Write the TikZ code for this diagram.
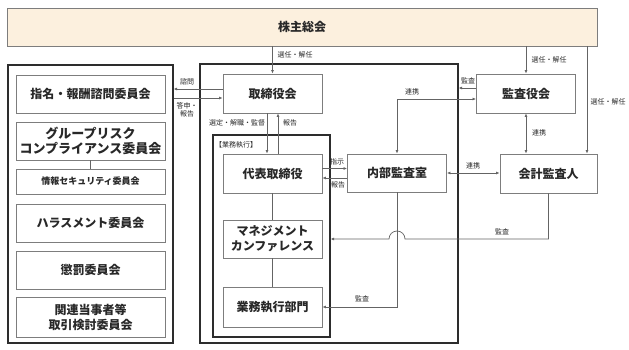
\documentclass[tikz,border=0pt]{standalone}
\usepackage{fontspec}
\setmainfont{Noto Sans CJK JP}
\usetikzlibrary{arrows.meta,positioning,calc}
\definecolor{gcedge}{RGB}{125,125,125}
\definecolor{gcframe}{RGB}{45,45,45}
\definecolor{gcline}{RGB}{100,100,100}
\definecolor{gcink}{RGB}{40,40,40}
\definecolor{gcbar}{RGB}{252,240,222}
\tikzset{
  gctip/.tip={Latex[length=3.5pt,width=3pt]},
  gcbox/.style={
    draw=gcedge, line width=0.9pt, align=center, inner sep=0pt,
    text=gcink, font=\fontsize{12}{15}\selectfont\bfseries
  },
  bar/.style={gcbox, fill=gcbar, minimum width=590, minimum height=38},
  org/.style={gcbox, minimum width=99, minimum height=39},
  cmt/.style={gcbox, minimum width=149, minimum height=38},
  frame/.style={draw=gcframe, line width=1.2pt, inner sep=0pt},
  arr/.style={-gctip, draw=gcline, line width=0.7pt},
  darr/.style={gctip-gctip, draw=gcline, line width=0.7pt},
  link/.style={draw=gcline, line width=0.7pt},
  lbl/.style={font=\fontsize{7}{8.5}\selectfont, text=gcink, inner sep=0pt, align=center}
}
\begin{document}
\begin{tikzpicture}[x=1pt,y=-1pt]
  \useasboundingbox (0,0) rectangle (629,350);
  % shareholders
  \node[bar] (soukai) at (302,27) {株主総会};
  % committees
  \node[frame, minimum width=165, minimum height=278] (cmtgrp) at (90.5,204) {};
  \node[cmt] (nom) at (90.5,94) {指名・報酬諮問委員会};
  \node[cmt, font=\fontsize{13}{15}\selectfont\bfseries] (risk) at (90.5,141)
    {グループリスク\\コンプライアンス委員会};
  \node[cmt, minimum height=25, font=\fontsize{9}{11}\selectfont\bfseries] (infosec) at (90.5,181.5)
    {情報セキュリティ委員会};
  \node[cmt] (harass) at (90.5,223) {ハラスメント委員会};
  \node[cmt] (discip) at (90.5,270) {懲罰委員会};
  \node[cmt, minimum height=40] (related) at (90.5,317) {関連当事者等\\取引検討委員会};
  \draw[link] (risk) -- (infosec);
  % board and execution
  \node[frame, minimum width=258, minimum height=279] (main) at (329,203.5) {};
  \node[frame, minimum width=117, minimum height=202] (execfr) at (271.5,236) {};
  \node[lbl, anchor=west] at (215,145) {【業務執行】};
  \node[org] (bod) at (272.5,93.5) {取締役会};
  \node[org] (rep) at (272.5,173.5) {代表取締役};
  \node[org, minimum height=38] (mc) at (272.5,239) {マネジメント\\カンファレンス};
  \node[org, minimum height=40] (ops) at (272.5,307) {業務執行部門};
  \node[org, minimum height=38] (ia) at (397,173) {内部監査室};
  % auditors
  \node[org] (kansa) at (526,93.5) {監査役会};
  \node[org, minimum width=97] (auditor) at (548.5,173.5) {会計監査人};
  % appointment
  \draw[arr] (soukai.south -| bod.north) -- (bod.north);
  \node[lbl] at (295,55) {選任・解任};
  \draw[arr] (soukai.south -| kansa.north) -- (kansa.north);
  \node[lbl] at (549,60) {選任・解任};
  \draw[arr] (soukai.south -| 587,0) -- (auditor.north -| 587,0);
  \node[lbl] at (608,102) {選任・解任};
  % committees and board
  \draw[arr] ([yshift=4.5pt]bod.west) -- ([yshift=4.5pt]bod.west -| cmtgrp.east);
  \node[lbl] at (187,82) {諮問};
  \draw[arr] ([yshift=-4.5pt]bod.west -| cmtgrp.east) -- ([yshift=-4.5pt]bod.west);
  \node[lbl] at (187,110) {答申・\\報告};
  % board and representative
  \draw[arr] ([xshift=-5.5pt]bod.south) -- ([xshift=-5.5pt]bod.south |- rep.north);
  \node[lbl] at (237,123) {選定・解職・監督};
  \draw[arr] ([xshift=5.5pt]bod.south |- rep.north) -- ([xshift=5.5pt]bod.south);
  \node[lbl] at (290,123) {報告};
  \draw[link] (rep) -- (mc);
  \draw[link] (mc) -- (ops);
  % internal audit
  \draw[arr] ([yshift=5pt]rep.east) -- ([yshift=5pt]rep.east -| ia.west);
  \node[lbl] at (337,162) {指示};
  \draw[arr] ([yshift=-4.5pt]rep.east -| ia.west) -- ([yshift=-4.5pt]rep.east);
  \node[lbl] at (338,185) {報告};
  \draw[arr] (ia.south) |- (ops.east);
  \node[lbl] at (362,299) {監査};
  \draw[darr] (ia.north) |- ([yshift=-5.5pt]kansa.west);
  \node[lbl] at (412,92) {連携};
  \draw[arr] ([yshift=5.5pt]kansa.west) -- ([yshift=5.5pt]kansa.west -| main.east);
  \node[lbl] at (468,81) {監査};
  \draw[darr] (ia.east) -- (ia.east -| auditor.west);
  \node[lbl] at (473,166) {連携};
  \draw[darr] (kansa.south) -- (kansa.south |- auditor.north);
  \node[lbl] at (539,133) {連携};
  \draw[arr] (auditor.south) |- ($(ia.south |- mc)+(8,0)$)
    arc[start angle=0, end angle=180, radius=8pt] -- (mc -| execfr.east);
  \node[lbl] at (502,232) {監査};
\end{tikzpicture}
\end{document}
